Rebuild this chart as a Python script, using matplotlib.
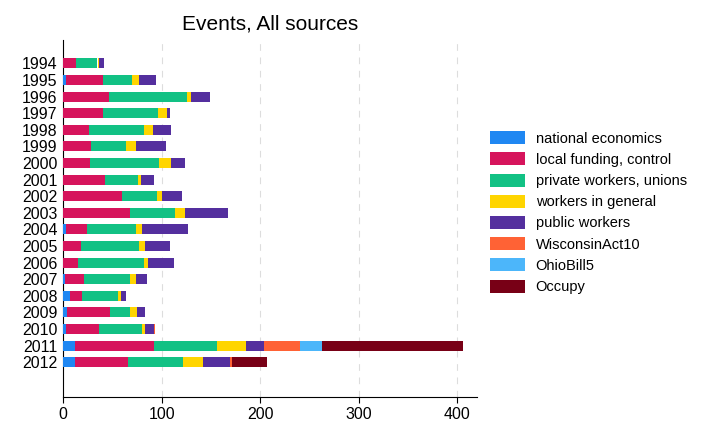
import matplotlib
matplotlib.use("Agg")
import matplotlib.pyplot as plt
import numpy as np

plt.rcParams["font.family"] = ["Liberation Sans", "DejaVu Sans"]

years = [str(y) for y in range(1994, 2013)]
categories = ["national economics", "local funding, control", "private workers, unions",
              "workers in general", "public workers", "WisconsinAct10", "OhioBill5", "Occupy"]

national_economics = [0, 3, 0, 0, 0, 0, 0, 0, 0, 0, 3, 0, 0, 2, 7, 4, 3, 12, 12]
local_funding = [13, 38, 47, 41, 26, 28, 27, 43, 60, 68, 21, 18, 15, 19, 12, 44, 34, 80, 54]
private_workers = [22, 29, 79, 55, 56, 36, 70, 33, 35, 46, 50, 59, 67, 47, 37, 20, 43, 64, 56]
workers_general = [2, 7, 4, 9, 9, 10, 13, 3, 5, 10, 6, 6, 4, 6, 3, 7, 3, 30, 20]
public_workers = [5, 17, 19, 4, 19, 30, 14, 13, 21, 43, 47, 26, 27, 11, 5, 8, 9, 18, 27]
wisconsin_act10 = [0, 0, 0, 0, 0, 0, 0, 0, 0, 0, 0, 0, 0, 0, 0, 0, 1, 36, 2]
ohio_bill5 = [0, 0, 0, 0, 0, 0, 0, 0, 0, 0, 0, 0, 0, 0, 0, 0, 0, 23, 0]
occupy = [0, 0, 0, 0, 0, 0, 0, 0, 0, 0, 0, 0, 0, 0, 0, 0, 0, 143, 36]

series = [national_economics, local_funding, private_workers, workers_general,
          public_workers, wisconsin_act10, ohio_bill5, occupy]
colors = ["#1f87f2", "#d6145c", "#12c184", "#ffd500", "#542f9e", "#ff6235", "#4cb6fa", "#780016"]

fig = plt.figure(figsize=(7.2, 4.32), dpi=100)
ax = fig.add_axes([0.0875, 0.081, 0.575, 0.826])

pos = np.arange(len(years))
left = np.zeros(len(years))
for name, vals, c in zip(categories, series, colors):
    vals = np.array(vals, dtype=float)
    ax.barh(pos, vals, left=left, height=0.6, color=c, label=name, zorder=3)
    left += vals

ax.set_yticks(pos)
ax.set_yticklabels(years, fontsize=11.5)
ax.set_ylim(20.1, -1.4)
ax.set_xlim(0, 420)
ax.set_xticks([0, 100, 200, 300, 400])
ax.tick_params(axis="x", labelsize=11.5, length=4)
ax.tick_params(axis="y", length=0, pad=4)
ax.grid(axis="x", color="#dddddd", linestyle=(0, (6, 6)), linewidth=0.8, zorder=0)
for s in ["top", "right"]:
    ax.spines[s].set_visible(False)
ax.set_title("Events, All sources", fontsize=15, pad=8)

fig.legend(loc="upper left", bbox_to_anchor=(0.663, 0.727), frameon=False, fontsize=10.5,
           handlelength=2.4, handleheight=1.0, labelspacing=0.46, handletextpad=0.7)

fig.savefig("out.png", dpi=100)
